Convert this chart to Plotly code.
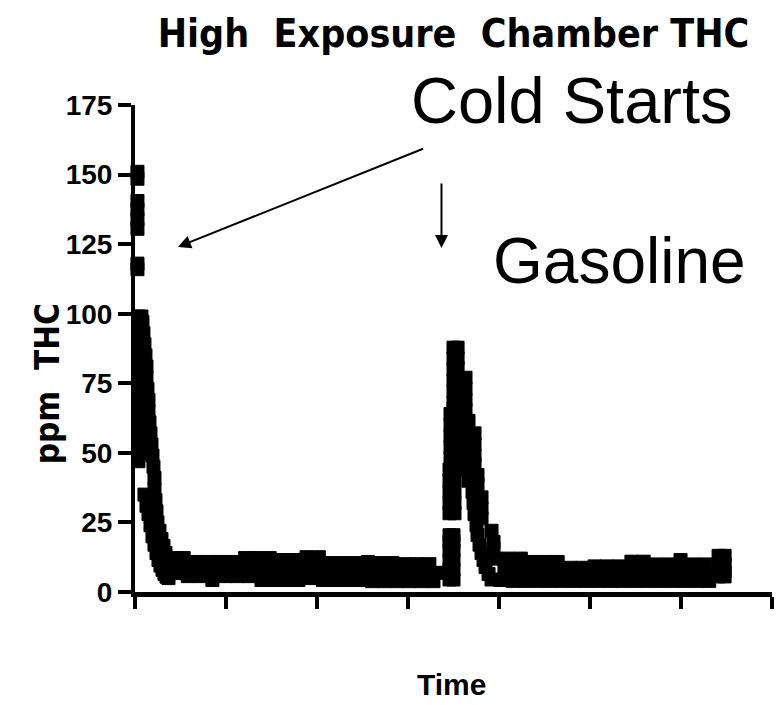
import plotly.graph_objects as go

# Total hydrocarbon (ppm) readings in the high exposure chamber.
# Each column entry is (time, [readings logged at that time]).

# First cold start: sharp spike at the start of the run, then decay
cold_start_columns = [
    (-0.038, [151, 148.5, 140.5, 137.5, 134, 130.5, 118, 116,
              93, 90, 87, 84, 81, 78, 75, 72, 69, 66, 63, 60, 57, 54, 51, 48,
              37.7, 33.7]),
    (0.027, [151, 148.5, 140.5, 137.5, 134, 130.5, 118, 116]),
    (0.038, [99, 95, 91, 87, 83, 79, 75, 71, 67, 63, 59, 55, 51, 47]),
    (0.071, [99, 90, 80, 70, 60, 50]), (0.082, [97]), (0.093, [93]),
    (0.104, [89, 35]), (0.115, [85, 75, 65, 55]), (0.126, [81, 77, 31]),
    (0.137, [73]), (0.148, [69, 65, 28]), (0.159, [61, 50]), (0.170, [57, 24]),
    (0.181, [53]), (0.192, [49, 20]), (0.203, [45]), (0.214, [41, 37, 17]),
    (0.225, [33]), (0.236, [29, 14]), (0.247, [25]), (0.258, [11.5]),
    (0.269, [22]), (0.280, [9.5]), (0.291, [19]), (0.302, [8]),
    (0.313, [16.5]), (0.324, [6.5]), (0.335, [14]), (0.346, [5.5]),
    (0.357, [12]), (0.368, [5]), (0.390, [10.5]),
]

# Steady background between the two starts (sampled every 0.045 time units)
sample_interval = 0.045
baseline_1_start = 0.40
baseline_1_thc = [
    12.2, 6.8, 9.5, 12.2, 5.7, 8.3, 10.8, 5.7, 8.0, 10.8, 4.3, 7.5,
    10.8, 5.7, 8.2, 10.8, 5.7, 8.8, 12.2, 5.7, 9.0, 12.2, 4.3, 8.2,
    12.2, 4.3, 8.0, 11.5, 4.3, 7.9, 11.5, 4.3, 8.4, 12.5, 5.0, 8.7,
    12.5, 4.3, 8.4, 10.4, 4.3, 7.4, 10.4, 4.3, 7.3, 10.4, 4.3, 7.5,
    10.8, 3.9, 7.3, 10.4, 3.9, 7.1, 10.4, 3.9, 7.0, 10.0, 3.9, 6.9,
    10.0, 3.9, 7.0, 10.0, 3.9, 6.9,
]

# Second cold start (gasoline vehicle)
gasoline_columns = [
    (3.456, [4.5, 8, 11.5, 15, 18, 20.4, 28.3, 32, 36, 40, 44]),
    (3.467, [48, 52, 56, 60, 64]),
    (3.500, [4.5, 8, 11.5, 15, 18, 20.4, 50, 54, 58, 62, 66, 68, 72, 76, 80, 84, 87.8]),
    (3.511, [28.3, 32, 36, 40, 44]),
    (3.522, [46, 50, 54, 58, 62, 66, 70, 74, 78]),
    (3.545, [87.8, 84, 80.5, 76, 72]),
    (3.555, [46, 50, 54, 58, 62, 66]),
    (3.566, [68]), (3.577, [64]), (3.588, [60]), (3.599, [56, 46]),
    (3.610, [52]), (3.621, [48]), (3.632, [77, 73, 69, 65.5]),
    (3.643, [44]), (3.665, [61.5, 40]),
    (3.709, [36]), (3.720, [32]), (3.731, [57, 53, 49, 46, 28]),
    (3.753, [24]), (3.764, [42, 38.5, 20.5]), (3.786, [17]),
    (3.808, [34, 30, 26.5, 14]), (3.830, [11.5]), (3.852, [9]),
    (3.885, [6.5]), (3.918, [22, 4.5]), (3.940, [18, 15.5]),
]

baseline_2_start = 3.97
baseline_2_thc = [
    12.0, 4.3, 8.2, 12.0, 4.0, 8.0, 12.0, 4.0, 8.0, 10.8, 4.0, 7.4,
    10.8, 4.0, 7.4, 10.8, 4.0, 7.2, 8.7, 4.0, 6.4, 8.7, 4.0, 6.5,
    9.2, 4.0, 6.6, 9.2, 4.0, 6.6, 9.2, 4.0, 6.8, 10.9, 4.0, 7.4,
    10.9, 4.0, 7.0, 9.9, 4.0, 7.0, 9.9, 4.0, 7.6, 11.5, 4.0, 7.6,
    9.9, 4.0, 7.0, 9.9, 4.0, 7.0,
]

# Last readings of the run
final_columns = [
    (6.413, [13.0, 10.2, 7.6, 5.6]),
    (6.479, [13.0, 10.2, 7.6, 5.6]),
]

y_ticks = [0, 25, 50, 75, 100, 125, 150, 175]
x_ticks = [0, 1, 2, 3, 4, 5, 6, 7]


def expand(columns):
    ts, vs = [], []
    for t, readings in columns:
        for v in readings:
            ts.append(t)
            vs.append(v)
    return ts, vs


def sampled(start, readings):
    return [round(start + sample_interval * i, 4) for i in range(len(readings))], list(readings)


time, thc = [], []
for part in (expand(cold_start_columns),
             sampled(baseline_1_start, baseline_1_thc),
             expand(gasoline_columns),
             sampled(baseline_2_start, baseline_2_thc),
             expand(final_columns)):
    time += part[0]
    thc += part[1]

CONDENSED = "'DejaVu Sans Condensed', 'Liberation Sans', sans-serif"
REGULAR = "'Liberation Sans', Arial, sans-serif"

fig = go.Figure(
    go.Scatter(
        x=time, y=thc, mode="markers", cliponaxis=False,
        marker=dict(symbol="square", size=13, color="black",
                    line=dict(width=1, color="black")),
        hoverinfo="x+y",
    )
)

fig.update_layout(
    width=781, height=705,
    margin=dict(l=135, r=9, t=105, b=113),
    paper_bgcolor="white", plot_bgcolor="white",
    showlegend=False,
    title=dict(
        text="<b>High\u00a0 Exposure\u00a0 Chamber THC</b>",
        font=dict(family=CONDENSED, size=39, color="black"),
        x=0.5, xref="paper", xanchor="center",
        y=1 - 33 / 705, yref="container", yanchor="middle",
    ),
    xaxis=dict(
        range=[0, 7], tickvals=x_ticks, showticklabels=False,
        showgrid=False, zeroline=False,
        showline=True, linecolor="black", linewidth=5,
        ticks="outside", ticklen=12, tickwidth=4, tickcolor="black",
    ),
    yaxis=dict(
        range=[0, 175], tickvals=y_ticks,
        showgrid=False, zeroline=False,
        showline=True, linecolor="black", linewidth=4,
        ticks="outside", ticklen=13, tickwidth=4, tickcolor="black",
        tickfont=dict(family=REGULAR, size=28, color="black", weight="bold"),
    ),
    annotations=[
        dict(text="<b>ppm\u00a0 THC</b>", xref="paper", yref="paper",
             x=-0.138, y=0.427, xanchor="center", yanchor="middle",
             textangle=-90, showarrow=False,
             font=dict(family=CONDENSED, size=33, color="black")),
        dict(text="<b>Time</b>", xref="paper", yref="paper",
             x=0.497, y=-0.19, xanchor="center", yanchor="middle",
             showarrow=False,
             font=dict(family=REGULAR, size=30, color="black")),
        dict(text="Cold Starts", xref="paper", yref="paper",
             x=0.686, y=1.010, xanchor="center", yanchor="middle",
             showarrow=False,
             font=dict(family=REGULAR, size=65, color="black")),
        dict(text="Gasoline", xref="paper", yref="paper",
             x=0.76, y=0.68, xanchor="center", yanchor="middle",
             showarrow=False,
             font=dict(family=REGULAR, size=64, color="black")),
        dict(text="", x=0.472, y=124.0, xref="x", yref="y",
             ax=3.182, ay=159.5, axref="x", ayref="y",
             showarrow=True, arrowhead=2, arrowsize=1.3, arrowwidth=2,
             arrowcolor="black", standoff=0),
        dict(text="", x=3.368, y=123.6, xref="x", yref="y",
             ax=3.368, ay=147.3, axref="x", ayref="y",
             showarrow=True, arrowhead=2, arrowsize=1.3, arrowwidth=2,
             arrowcolor="black", standoff=0),
    ],
)

fig.write_html("out.html")
